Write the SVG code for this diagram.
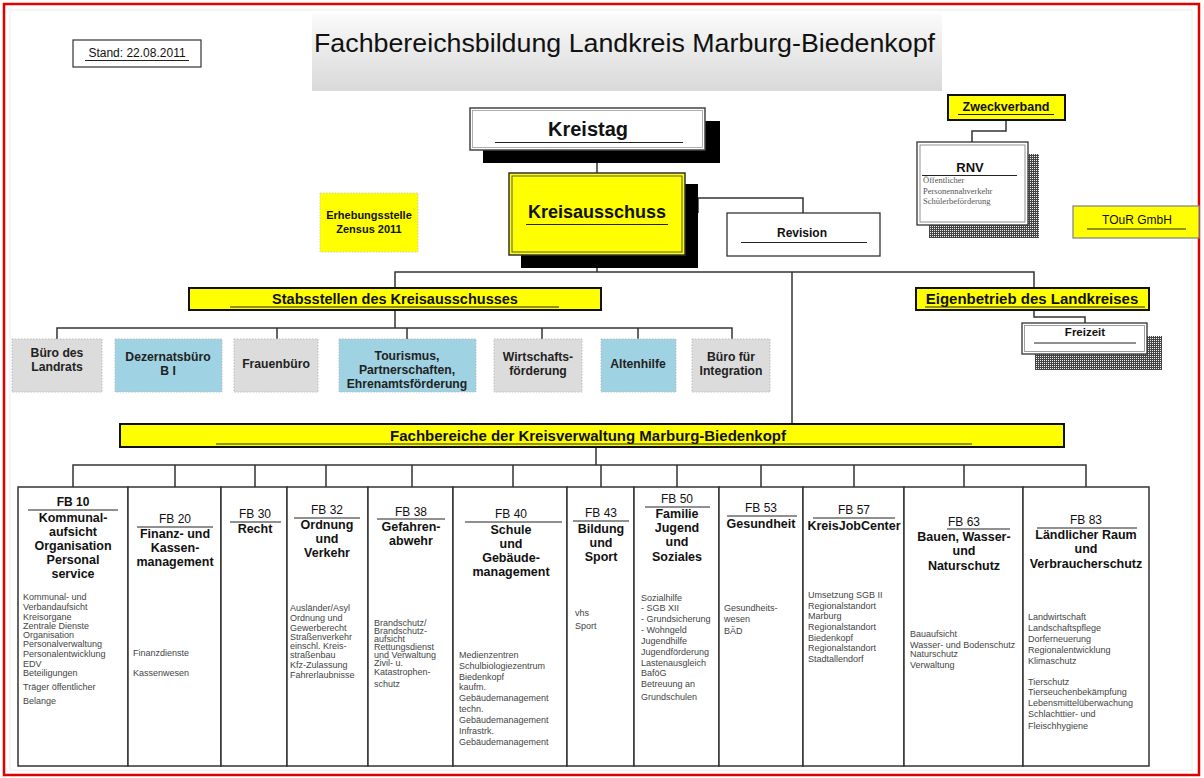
<svg xmlns="http://www.w3.org/2000/svg" width="1204" height="778" viewBox="0 0 1204 778">
<style>
text{font-family:"Liberation Sans",Arial,sans-serif;fill:#111}
.b{font-weight:bold}
.c{text-anchor:middle}
.d{font-size:9px;fill:#444}
.t{font-size:12.5px;font-weight:bold;text-anchor:middle}
.n{font-size:12px;text-anchor:middle}
.ln{stroke:#222;stroke-width:1.2;fill:none}
.con{stroke:#333;stroke-width:1.5;fill:none}
.ye{fill:#ffff00;stroke:#111;stroke-width:2}
.fb{fill:#fff;stroke:#333;stroke-width:1.5}
.gr{fill:#dcdcdc;stroke:#bbb;stroke-width:1;stroke-dasharray:1.5 1.5}
.bl{fill:#9fd3e3;stroke:#bbb;stroke-width:1;stroke-dasharray:1.5 1.5}
.st{font-size:12.2px;font-weight:bold;text-anchor:middle;fill:#222}
.ser{font-family:"Liberation Serif","Times New Roman",serif;font-size:8.5px;fill:#555}
</style>
<defs>
<pattern id="hatch" width="2" height="2" patternUnits="userSpaceOnUse">
<rect width="2" height="2" fill="#444"/>
<rect width="1" height="1" fill="#eee"/>
</pattern>
<linearGradient id="tg" x1="0" y1="0" x2="0" y2="1">
<stop offset="0" stop-color="#fbfbfb"/>
<stop offset="0.35" stop-color="#eeeeee"/>
<stop offset="1" stop-color="#d9d9d9"/>
</linearGradient>
</defs>
<rect x="0" y="0" width="1204" height="778" fill="#fff"/>
<rect x="10" y="10" width="1182" height="760" fill="none" stroke="#eeeeee" stroke-width="1"/>
<rect x="4" y="4" width="1195" height="771" fill="none" stroke="#e00000" stroke-width="2.5"/>

<g id="stand">
<rect x="73" y="40" width="128" height="27" fill="#fff" stroke="#333" stroke-width="1.2"/>
<text x="137" y="57" class="c" font-size="12">Stand: 22.08.2011</text>
<line x1="85" y1="60.5" x2="189" y2="60.5" class="ln" stroke-width="0.8"/>
</g>

<g id="title">
<rect x="312" y="14" width="630" height="77" fill="url(#tg)"/>
<text x="314" y="52" font-size="25" textLength="621" lengthAdjust="spacingAndGlyphs">Fachbereichsbildung Landkreis Marburg-Biedenkopf</text>
</g>

<g id="connectors">
<path class="con" d="M597,163 V173"/>
<path class="con" d="M698,213 V198 H803 V213"/>
<path class="con" d="M597,268 V272"/>
<path class="con" d="M395,288 V272 H1034 V288"/>
<path class="con" d="M792,272 V424"/>
<path class="con" d="M395,310 V328"/>
<path class="con" d="M57,339 V328 H732 V339"/>
<path class="con" d="M277,328 V339 M407,328 V339 M542,328 V339 M638,328 V339"/>
<path class="con" d="M1034,310 V317 H1085 V323"/>
<path class="con" d="M1006,120 V131 H972 V142"/>
<path class="con" d="M596,447 V465"/>
<path class="con" d="M73,487 V465 H1086 V487"/>
<path class="con" d="M175,465 V487 M255,465 V487 M326,465 V487 M412,465 V487 M513,465 V487 M601,465 V487 M677,465 V487 M761,465 V487 M854,465 V487 M964,465 V487"/>
</g>

<g id="kreistag">
<rect x="483" y="121" width="237" height="42" fill="#000"/>
<rect x="470" y="108" width="235" height="42" fill="#fff" stroke="#444" stroke-width="1.5"/>
<rect x="472.5" y="110.5" width="230" height="37" fill="none" stroke="#999" stroke-width="0.8"/>
<text x="588" y="136" class="b c" font-size="20">Kreistag</text>
<line x1="495" y1="142.5" x2="683" y2="142.5" class="ln"/>
</g>

<g id="kreisausschuss">
<rect x="521" y="184" width="177" height="84" fill="#000"/>
<rect x="509" y="173" width="176" height="82" fill="#ffff00" stroke="#333" stroke-width="1.5"/>
<rect x="512" y="176" width="170" height="76" fill="none" stroke="#555" stroke-width="1"/>
<text x="597" y="218" class="b c" font-size="18">Kreisausschuss</text>
<line x1="526" y1="224.5" x2="668" y2="224.5" class="ln"/>
</g>

<g id="revision">
<rect x="727" y="213" width="153" height="43" fill="#fff" stroke="#333" stroke-width="1.3"/>
<text x="802" y="237" class="b c" font-size="12">Revision</text>
<line x1="741" y1="242.5" x2="867" y2="242.5" class="ln"/>
</g>

<g id="zensus">
<rect x="320" y="193" width="98" height="59" fill="#ffff00" stroke="#ccc" stroke-width="1" stroke-dasharray="1.5 1.5"/>
<text x="369" y="219" class="b c" font-size="11">Erhebungsstelle</text>
<text x="369" y="233" class="b c" font-size="11">Zensus 2011</text>
</g>

<g id="zweckverband">
<rect x="948" y="95" width="117" height="25" class="ye"/>
<text x="1006" y="111" class="b c" font-size="12.5">Zweckverband</text>
<line x1="958" y1="114.5" x2="1054" y2="114.5" class="ln"/>
</g>

<g id="rnv">
<rect x="929" y="154" width="110" height="84" fill="url(#hatch)"/>
<rect x="917" y="142" width="111" height="83" fill="#fff" stroke="#333" stroke-width="1.3"/>
<rect x="920" y="145" width="105" height="77" fill="none" stroke="#777" stroke-width="0.8"/>
<text x="970" y="172" class="b c" font-size="13">RNV</text>
<line x1="922" y1="175.5" x2="1017" y2="175.5" class="ln"/>
<text x="923" y="183" class="ser">Öffentlicher</text>
<text x="923" y="193.5" class="ser">Personennahverkehr</text>
<text x="923" y="204" class="ser">Schülerbeförderung</text>
</g>

<g id="tour">
<rect x="1073" y="206" width="126" height="32" fill="#ffff00" stroke="#888" stroke-width="1.3"/>
<text x="1137" y="224" class="c" font-size="12">TOuR GmbH</text>
<line x1="1087" y1="229" x2="1186" y2="229" class="ln"/>
</g>

<g id="stabsstellen">
<rect x="189" y="288" width="412" height="22" class="ye"/>
<text x="395" y="304" class="b c" font-size="14.5">Stabsstellen des Kreisausschusses</text>
<line x1="230" y1="307" x2="559" y2="307" class="ln"/>
</g>

<g id="eigenbetrieb">
<rect x="916" y="288" width="233" height="22" class="ye"/>
<text x="1032" y="304" class="b c" font-size="15">Eigenbetrieb des Landkreises</text>
<line x1="925" y1="307" x2="1145" y2="307" class="ln"/>
</g>

<g id="freizeit">
<rect x="1035" y="336" width="127" height="34" fill="url(#hatch)"/>
<rect x="1022" y="323" width="125" height="31" fill="#fff" stroke="#333" stroke-width="1.3"/>
<rect x="1024.5" y="325.5" width="120" height="26" fill="none" stroke="#888" stroke-width="0.8"/>
<text x="1085" y="336" class="b c" font-size="11.5">Freizeit</text>
<line x1="1034" y1="343" x2="1136" y2="343" class="ln"/>
</g>

<g id="buero-landrat">
<rect x="12" y="339" width="90" height="53" class="gr"/>
<text x="57" y="357" class="st">Büro des</text>
<text x="57" y="371" class="st">Landrats</text>
</g>
<g id="dezernatsbuero">
<rect x="115" y="339" width="107" height="53" class="bl"/>
<text x="168" y="361" class="st">Dezernatsbüro</text>
<text x="168" y="375" class="st">B I</text>
</g>
<g id="frauenbuero">
<rect x="234" y="339" width="84" height="53" class="gr"/>
<text x="276" y="368" class="st">Frauenbüro</text>
</g>
<g id="tourismus">
<rect x="339" y="339" width="137" height="53" class="bl"/>
<text x="407" y="360" class="st">Tourismus,</text>
<text x="407" y="374" class="st">Partnerschaften,</text>
<text x="407" y="388" class="st">Ehrenamtsförderung</text>
</g>
<g id="wirtschaft">
<rect x="494" y="339" width="88" height="53" class="gr"/>
<text x="538" y="361" class="st">Wirtschafts-</text>
<text x="538" y="375" class="st">förderung</text>
</g>
<g id="altenhilfe">
<rect x="601" y="339" width="75" height="53" class="bl"/>
<text x="638" y="368" class="st">Altenhilfe</text>
</g>
<g id="integration">
<rect x="692" y="339" width="78" height="53" class="gr"/>
<text x="731" y="361" class="st">Büro für</text>
<text x="731" y="375" class="st">Integration</text>
</g>

<g id="fachbereiche">
<rect x="120" y="424" width="944" height="23" class="ye"/>
<text x="588" y="441" class="b c" font-size="15">Fachbereiche der Kreisverwaltung Marburg-Biedenkopf</text>
<line x1="216" y1="444" x2="972" y2="444" class="ln"/>
</g>

<g id="fb10">
<rect x="18" y="487" width="110" height="279" class="fb"/>
<text x="73" y="506" class="n b">FB 10</text>
<line x1="28" y1="510" x2="118" y2="510" class="ln"/>
<text x="73" y="522" class="t">Kommunal-</text>
<text x="73" y="536" class="t">aufsicht</text>
<text x="73" y="550" class="t">Organisation</text>
<text x="73" y="564" class="t">Personal</text>
<text x="73" y="578" class="t">service</text>
<text class="d"><tspan x="23" y="600">Kommunal- und</tspan><tspan x="23" y="610">Verbandaufsicht</tspan><tspan x="23" y="620">Kreisorgane</tspan><tspan x="23" y="629">Zentrale Dienste</tspan><tspan x="23" y="638">Organisation</tspan><tspan x="23" y="647">Personalverwaltung</tspan><tspan x="23" y="657">Personalentwicklung</tspan><tspan x="23" y="667">EDV</tspan><tspan x="23" y="676">Beteiligungen</tspan><tspan x="23" y="690">Träger öffentlicher</tspan><tspan x="23" y="704">Belange</tspan></text>
</g>

<g id="fb20">
<rect x="128" y="487" width="93" height="279" class="fb"/>
<text x="175" y="523" class="n">FB 20</text>
<line x1="137" y1="527" x2="213" y2="527" class="ln"/>
<text x="175" y="538" class="t">Finanz- und</text>
<text x="175" y="552" class="t">Kassen-</text>
<text x="175" y="566" class="t">management</text>
<text class="d"><tspan x="133" y="656">Finanzdienste</tspan><tspan x="133" y="676">Kassenwesen</tspan></text>
</g>

<g id="fb30">
<rect x="221" y="487" width="66" height="279" class="fb"/>
<text x="255" y="518" class="n">FB 30</text>
<line x1="230" y1="522" x2="281" y2="522" class="ln"/>
<text x="255" y="533" class="t">Recht</text>
</g>

<g id="fb32">
<rect x="287" y="487" width="81" height="279" class="fb"/>
<text x="327" y="514" class="n">FB 32</text>
<line x1="294" y1="518" x2="360" y2="518" class="ln"/>
<text x="327" y="529" class="t">Ordnung</text>
<text x="327" y="543" class="t">und</text>
<text x="327" y="557" class="t">Verkehr</text>
<text class="d"><tspan x="290" y="611">Ausländer/Asyl</tspan><tspan x="290" y="621">Ordnung und</tspan><tspan x="290" y="630.5">Gewerberecht</tspan><tspan x="290" y="639.5">Straßenverkehr</tspan><tspan x="290" y="648.5">einschl. Kreis-</tspan><tspan x="290" y="657.5">straßenbau</tspan><tspan x="290" y="667.5">Kfz-Zulassung</tspan><tspan x="290" y="677.5">Fahrerlaubnisse</tspan></text>
</g>

<g id="fb38">
<rect x="368" y="487" width="85" height="279" class="fb"/>
<text x="411" y="516" class="n">FB 38</text>
<line x1="377" y1="519" x2="445" y2="519" class="ln"/>
<text x="411" y="531" class="t">Gefahren-</text>
<text x="411" y="545" class="t">abwehr</text>
<text class="d"><tspan x="374" y="626">Brandschutz/</tspan><tspan x="374" y="634">Brandschutz-</tspan><tspan x="374" y="642">aufsicht</tspan><tspan x="374" y="650">Rettungsdienst</tspan><tspan x="374" y="658">und Verwaltung</tspan><tspan x="374" y="666">Zivil- u.</tspan><tspan x="374" y="675">Katastrophen-</tspan><tspan x="374" y="687">schutz</tspan></text>
</g>

<g id="fb40">
<rect x="453" y="487" width="114" height="279" class="fb"/>
<text x="511" y="518" class="n">FB 40</text>
<line x1="465" y1="522" x2="562" y2="522" class="ln"/>
<text x="511" y="534" class="t">Schule</text>
<text x="511" y="548" class="t">und</text>
<text x="511" y="562" class="t">Gebäude-</text>
<text x="511" y="576" class="t">management</text>
<text class="d"><tspan x="459" y="658">Medienzentren</tspan><tspan x="459" y="669">Schulbiologiezentrum</tspan><tspan x="459" y="680">Biedenkopf</tspan><tspan x="459" y="690">kaufm.</tspan><tspan x="459" y="701">Gebäudemanagement</tspan><tspan x="459" y="712">techn.</tspan><tspan x="459" y="723">Gebäudemanagement</tspan><tspan x="459" y="734">Infrastrk.</tspan><tspan x="459" y="745">Gebäudemanagement</tspan></text>
</g>

<g id="fb43">
<rect x="567" y="487" width="67" height="279" class="fb"/>
<text x="601" y="517" class="n">FB 43</text>
<line x1="573" y1="521" x2="629" y2="521" class="ln"/>
<text x="601" y="533" class="t">Bildung</text>
<text x="601" y="547" class="t">und</text>
<text x="601" y="561" class="t">Sport</text>
<text class="d"><tspan x="575" y="616">vhs</tspan><tspan x="575" y="629">Sport</tspan></text>
</g>

<g id="fb50">
<rect x="634" y="487" width="85" height="279" class="fb"/>
<text x="677" y="503" class="n">FB 50</text>
<line x1="645" y1="507" x2="710" y2="507" class="ln"/>
<text x="677" y="518" class="t">Familie</text>
<text x="677" y="532" class="t">Jugend</text>
<text x="677" y="546" class="t">und</text>
<text x="677" y="561" class="t">Soziales</text>
<text class="d"><tspan x="641" y="601">Sozialhilfe</tspan><tspan x="641" y="611">- SGB XII</tspan><tspan x="641" y="622">- Grundsicherung</tspan><tspan x="641" y="633">- Wohngeld</tspan><tspan x="641" y="644">Jugendhilfe</tspan><tspan x="641" y="655">Jugendförderung</tspan><tspan x="641" y="666">Lastenausgleich</tspan><tspan x="641" y="676">BaföG</tspan><tspan x="641" y="687">Betreuung an</tspan><tspan x="641" y="700">Grundschulen</tspan></text>
</g>

<g id="fb53">
<rect x="719" y="487" width="84" height="279" class="fb"/>
<text x="761" y="512" class="n">FB 53</text>
<line x1="727" y1="516" x2="797" y2="516" class="ln"/>
<text x="761" y="528" class="t">Gesundheit</text>
<text class="d"><tspan x="724" y="611">Gesundheits-</tspan><tspan x="724" y="622">wesen</tspan><tspan x="724" y="634">BÄD</tspan></text>
</g>

<g id="fb57">
<rect x="803" y="487" width="101" height="279" class="fb"/>
<text x="854" y="514" class="n">FB 57</text>
<line x1="813" y1="518" x2="895" y2="518" class="ln"/>
<text x="854" y="530" class="t">KreisJobCenter</text>
<text class="d"><tspan x="808" y="598">Umsetzung SGB II</tspan><tspan x="808" y="609">Regionalstandort</tspan><tspan x="808" y="619">Marburg</tspan><tspan x="808" y="630">Regionalstandort</tspan><tspan x="808" y="641">Biedenkopf</tspan><tspan x="808" y="651">Regionalstandort</tspan><tspan x="808" y="662">Stadtallendorf</tspan></text>
</g>

<g id="fb63">
<rect x="904" y="487" width="119" height="279" class="fb"/>
<text x="964" y="526" class="n">FB 63</text>
<line x1="947" y1="529" x2="1010" y2="529" class="ln"/>
<text x="964" y="541" class="t">Bauen, Wasser-</text>
<text x="964" y="555" class="t">und</text>
<text x="964" y="570" class="t">Naturschutz</text>
<text class="d"><tspan x="910" y="637">Bauaufsicht</tspan><tspan x="910" y="648">Wasser- und Bodenschutz</tspan><tspan x="910" y="657">Naturschutz</tspan><tspan x="910" y="668">Verwaltung</tspan></text>
</g>

<g id="fb83">
<rect x="1023" y="487" width="126" height="279" class="fb"/>
<text x="1086" y="524" class="n">FB 83</text>
<line x1="1037" y1="528" x2="1137" y2="528" class="ln"/>
<text x="1086" y="539" class="t">Ländlicher Raum</text>
<text x="1086" y="553" class="t">und</text>
<text x="1086" y="568" class="t">Verbraucherschutz</text>
<text class="d"><tspan x="1028" y="620">Landwirtschaft</tspan><tspan x="1028" y="631">Landschaftspflege</tspan><tspan x="1028" y="642">Dorferneuerung</tspan><tspan x="1028" y="653">Regionalentwicklung</tspan><tspan x="1028" y="664">Klimaschutz</tspan><tspan x="1028" y="685">Tierschutz</tspan><tspan x="1028" y="695">Tierseuchenbekämpfung</tspan><tspan x="1028" y="706">Lebensmittelüberwachung</tspan><tspan x="1028" y="717">Schlachttier- und</tspan><tspan x="1028" y="729">Fleischhygiene</tspan></text>
</g>
</svg>
